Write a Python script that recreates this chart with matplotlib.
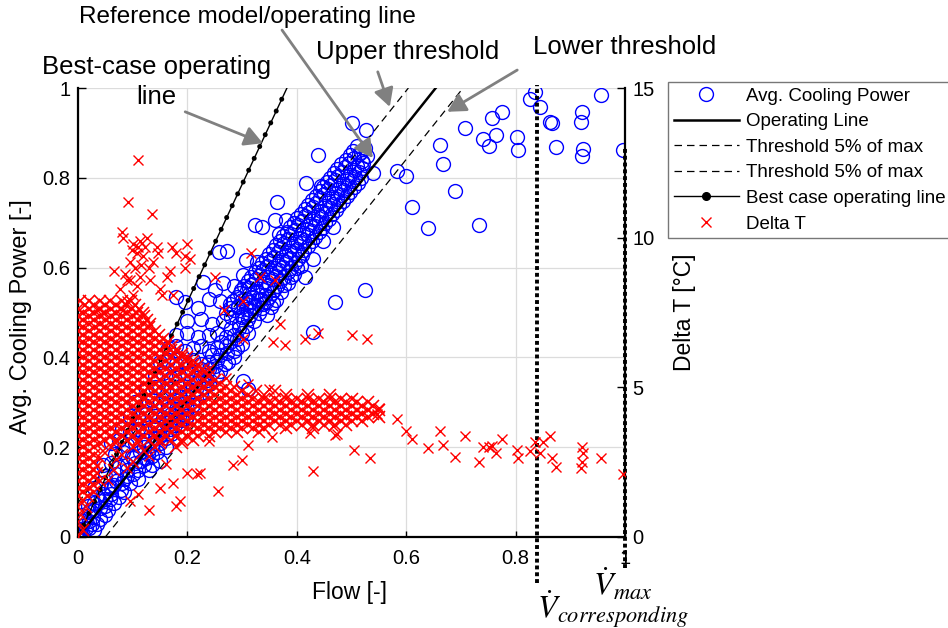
import matplotlib
matplotlib.use('Agg')
import matplotlib.pyplot as plt
from matplotlib.lines import Line2D
from matplotlib.ticker import FormatStrFormatter

plt.rcParams['font.family'] = ['Liberation Sans', 'DejaVu Sans']
plt.rcParams['mathtext.fontset'] = 'stix'

# ---- model lines (flow [-] vs avg. cooling power [-]) ----
op_flow = [0.0, 0.654]
op_power = [0.0, 1.0]
upper_flow = [0.0, 0.604]
upper_power = [0.0765, 1.0]
lower_flow = [0.05, 0.704]
lower_power = [0.0, 1.0]
best_flow = [0.0, 0.382]
best_power = [0.0, 1.0]

# dotted markers: V_corresponding and V_max
vline_flow = [0.84, 1.0]
vline_top = [1.007, 0.869]
vline_bottom = [-0.102, -0.069]

# ---- avg. cooling power points (flow, power) ----
blue_core = [
    (0.0, 0.0), (0.004, 0.01), (0.01, 0.005), (0.015, 0.02), (0.0, 0.015), (0.008, 0.025),
    (0.012, 0.04), (0.02, 0.035), (0.028, 0.045), (0.035, 0.03), (0.006, 0.05), (0.022, 0.06),
    (0.018, 0.07), (0.03, 0.075), (0.04, 0.065), (0.05, 0.07), (0.034, 0.09), (0.045, 0.095), (0.058, 0.085),
    (0.03, 0.11), (0.042, 0.12), (0.055, 0.11), (0.066, 0.115), (0.078, 0.105), (0.05, 0.135),
    (0.07, 0.14), (0.085, 0.13), (0.095, 0.12),
    (0.045, 0.16), (0.06, 0.165), (0.075, 0.155), (0.09, 0.16), (0.105, 0.165), (0.12, 0.16), (0.135, 0.16),
    (0.067, 0.185), (0.082, 0.19), (0.098, 0.18), (0.113, 0.19), (0.128, 0.185), (0.145, 0.19),
    (0.06, 0.21), (0.075, 0.215), (0.09, 0.205), (0.105, 0.21), (0.12, 0.215), (0.135, 0.205),
    (0.15, 0.21), (0.16, 0.2), (0.08, 0.24), (0.095, 0.235), (0.11, 0.24), (0.125, 0.235),
    (0.14, 0.245), (0.155, 0.235), (0.168, 0.24), (0.178, 0.25),
    (0.095, 0.27), (0.11, 0.265), (0.125, 0.275), (0.14, 0.27), (0.155, 0.265), (0.17, 0.275),
    (0.185, 0.27), (0.198, 0.265), (0.105, 0.3), (0.12, 0.295), (0.135, 0.305), (0.15, 0.3),
    (0.165, 0.295), (0.18, 0.305), (0.195, 0.3), (0.21, 0.295), (0.2, 0.285),
    (0.125, 0.33), (0.14, 0.335), (0.155, 0.325), (0.17, 0.33), (0.185, 0.335), (0.2, 0.325),
    (0.215, 0.33), (0.23, 0.335), (0.14, 0.36), (0.155, 0.365), (0.17, 0.355), (0.185, 0.36),
    (0.2, 0.365), (0.215, 0.355), (0.23, 0.36), (0.245, 0.365),
    (0.15, 0.39), (0.165, 0.395), (0.18, 0.385), (0.195, 0.39), (0.21, 0.395), (0.225, 0.385),
    (0.24, 0.39), (0.255, 0.395), (0.268, 0.385), (0.165, 0.42), (0.18, 0.425), (0.195, 0.415),
    (0.21, 0.42), (0.225, 0.425), (0.24, 0.415), (0.255, 0.42), (0.27, 0.425), (0.285, 0.415),
    (0.18, 0.45), (0.2, 0.455), (0.22, 0.445), (0.24, 0.45), (0.255, 0.455), (0.27, 0.445),
    (0.285, 0.45), (0.3, 0.455), (0.2, 0.48), (0.225, 0.485), (0.245, 0.475), (0.265, 0.48),
    (0.28, 0.49), (0.295, 0.475), (0.31, 0.485), (0.322, 0.48),
]
blue_core2 = [
    (0.02, 0.02), (0.03, 0.015), (0.025, 0.03), (0.04, 0.04), (0.05, 0.05), (0.055, 0.06),
    (0.065, 0.075), (0.06, 0.095), (0.075, 0.09), (0.085, 0.1), (0.08, 0.12), (0.09, 0.135),
    (0.1, 0.14), (0.11, 0.15), (0.1, 0.175), (0.115, 0.17), (0.125, 0.175), (0.12, 0.2),
    (0.13, 0.195), (0.14, 0.22), (0.15, 0.225), (0.145, 0.25), (0.16, 0.255), (0.17, 0.26),
    (0.165, 0.285), (0.18, 0.285), (0.19, 0.29), (0.185, 0.315), (0.2, 0.315), (0.21, 0.32),
    (0.205, 0.345), (0.22, 0.345), (0.235, 0.35), (0.225, 0.375), (0.24, 0.375), (0.25, 0.38),
    (0.245, 0.405), (0.26, 0.405), (0.272, 0.41), (0.262, 0.435), (0.278, 0.435), (0.29, 0.44),
    (0.28, 0.465), (0.295, 0.465), (0.308, 0.47), (0.3, 0.49), (0.315, 0.495),
    (0.01, 0.035), (0.02, 0.055), (0.03, 0.06), (0.04, 0.08), (0.05, 0.085), (0.06, 0.11),
    (0.07, 0.125), (0.09, 0.15), (0.11, 0.13), (0.13, 0.15), (0.135, 0.18), (0.15, 0.17),
    (0.16, 0.22), (0.17, 0.23), (0.185, 0.25), (0.19, 0.26), (0.2, 0.27), (0.215, 0.31),
    (0.225, 0.32), (0.24, 0.34), (0.255, 0.36), (0.26, 0.37), (0.275, 0.39), (0.285, 0.4),
    (0.29, 0.42), (0.3, 0.43), (0.31, 0.455),
]
blue_band = [
    (0.27, 0.5), (0.285, 0.505), (0.3, 0.495), (0.315, 0.505), (0.33, 0.5), (0.345, 0.495),
    (0.278, 0.52), (0.293, 0.515), (0.308, 0.52), (0.323, 0.515), (0.338, 0.52), (0.352, 0.512),
    (0.29, 0.535), (0.305, 0.53), (0.32, 0.535), (0.335, 0.53), (0.35, 0.535), (0.362, 0.528),
    (0.298, 0.55), (0.313, 0.555), (0.328, 0.548), (0.343, 0.555), (0.358, 0.55), (0.372, 0.546),
    (0.31, 0.57), (0.325, 0.575), (0.34, 0.568), (0.355, 0.575), (0.37, 0.57), (0.383, 0.566),
    (0.323, 0.59), (0.338, 0.595), (0.353, 0.588), (0.368, 0.594), (0.383, 0.59), (0.395, 0.586),
    (0.336, 0.61), (0.351, 0.614), (0.366, 0.607), (0.381, 0.613), (0.396, 0.61), (0.407, 0.604),
    (0.35, 0.63), (0.365, 0.634), (0.38, 0.627), (0.395, 0.633), (0.41, 0.628),
    (0.362, 0.65), (0.377, 0.655), (0.392, 0.648), (0.407, 0.654), (0.42, 0.648),
    (0.375, 0.67), (0.39, 0.674), (0.405, 0.667), (0.42, 0.673), (0.433, 0.668),
    (0.388, 0.69), (0.403, 0.694), (0.418, 0.687), (0.433, 0.693), (0.446, 0.688),
    (0.4, 0.71), (0.415, 0.715), (0.43, 0.708), (0.445, 0.713), (0.458, 0.708),
    (0.415, 0.73), (0.43, 0.734), (0.445, 0.727), (0.46, 0.733), (0.472, 0.728),
    (0.428, 0.75), (0.443, 0.755), (0.458, 0.748), (0.473, 0.753), (0.485, 0.748),
    (0.442, 0.77), (0.457, 0.774), (0.472, 0.767), (0.487, 0.773), (0.498, 0.768),
    (0.455, 0.79), (0.47, 0.794), (0.485, 0.787), (0.5, 0.793), (0.512, 0.788),
    (0.468, 0.81), (0.483, 0.814), (0.498, 0.807), (0.513, 0.812), (0.539, 0.81),
    (0.48, 0.83), (0.495, 0.834), (0.51, 0.827), (0.521, 0.832),
    (0.498, 0.85), (0.513, 0.852), (0.528, 0.848), (0.51, 0.87), (0.525, 0.866),
    (0.466, 0.69), (0.448, 0.66), (0.43, 0.62), (0.415, 0.58),
]
blue_band2 = [
    (0.277, 0.51), (0.292, 0.512), (0.307, 0.508), (0.322, 0.512), (0.337, 0.509),
    (0.284, 0.525), (0.299, 0.527), (0.314, 0.523), (0.329, 0.527), (0.344, 0.524), (0.357, 0.522),
    (0.297, 0.543), (0.312, 0.541), (0.327, 0.545), (0.342, 0.54), (0.355, 0.544),
    (0.304, 0.56), (0.319, 0.563), (0.334, 0.559), (0.349, 0.562), (0.364, 0.558), (0.377, 0.561),
    (0.317, 0.58), (0.332, 0.583), (0.347, 0.578), (0.362, 0.582), (0.377, 0.579), (0.389, 0.58),
    (0.33, 0.6), (0.345, 0.603), (0.36, 0.598), (0.375, 0.602), (0.39, 0.6), (0.4, 0.598),
    (0.343, 0.62), (0.358, 0.623), (0.373, 0.618), (0.388, 0.622), (0.402, 0.619),
    (0.356, 0.64), (0.371, 0.643), (0.386, 0.638), (0.401, 0.642), (0.414, 0.639),
    (0.369, 0.66), (0.384, 0.663), (0.399, 0.658), (0.414, 0.662), (0.427, 0.659),
    (0.382, 0.68), (0.397, 0.683), (0.412, 0.678), (0.427, 0.682), (0.44, 0.679),
    (0.395, 0.7), (0.41, 0.703), (0.425, 0.698), (0.44, 0.702), (0.452, 0.699),
    (0.408, 0.72), (0.423, 0.723), (0.438, 0.718), (0.453, 0.722), (0.465, 0.719),
    (0.421, 0.74), (0.436, 0.743), (0.451, 0.738), (0.466, 0.742), (0.478, 0.739),
    (0.435, 0.76), (0.45, 0.763), (0.465, 0.758), (0.48, 0.762), (0.492, 0.759),
    (0.448, 0.78), (0.463, 0.783), (0.478, 0.778), (0.493, 0.782), (0.505, 0.779),
    (0.461, 0.8), (0.476, 0.803), (0.491, 0.798), (0.506, 0.802), (0.518, 0.799),
    (0.474, 0.82), (0.489, 0.823), (0.504, 0.818), (0.519, 0.822),
    (0.49, 0.84), (0.505, 0.843), (0.52, 0.838), (0.503, 0.86), (0.518, 0.858),
]
blue_scatter = [
    (0.439, 0.85), (0.417, 0.789), (0.444, 0.781), (0.363, 0.746), (0.324, 0.694),
    (0.336, 0.691), (0.361, 0.707), (0.38, 0.705), (0.368, 0.674), (0.257, 0.635),
    (0.272, 0.637), (0.308, 0.616), (0.327, 0.612), (0.302, 0.583), (0.229, 0.568),
    (0.18, 0.534), (0.196, 0.523), (0.25, 0.55), (0.265, 0.565), (0.26, 0.525),
    (0.285, 0.56), (0.525, 0.551), (0.47, 0.523), (0.429, 0.456), (0.302, 0.348),
    (0.311, 0.33), (0.22, 0.51), (0.24, 0.53),
]
blue_outliers = [
    (0.5, 0.921), (0.527, 0.906), (0.708, 0.912), (0.756, 0.934), (0.776, 0.946),
    (0.741, 0.886), (0.765, 0.895), (0.752, 0.871), (0.803, 0.891), (0.805, 0.863),
    (0.661, 0.873), (0.668, 0.83), (0.836, 0.99), (0.826, 0.975), (0.845, 0.958),
    (0.863, 0.925), (0.866, 0.923), (0.921, 0.947), (0.919, 0.925), (0.956, 0.984),
    (0.873, 0.869), (0.924, 0.865), (0.921, 0.848), (0.997, 0.863), (0.584, 0.815),
    (0.6, 0.804), (0.69, 0.77), (0.611, 0.736), (0.64, 0.689), (0.733, 0.694),
]

# ---- delta T [degC]: dense cloud as rows (delta T, flows) ----
red_rows = [
    (7.875, [0.003, 0.021, 0.04, 0.058, 0.08, 0.097]),
    (7.75, [0.012, 0.03, 0.05, 0.07, 0.088, 0.105]),
    (7.625, [0.0, 0.02, 0.041, 0.06, 0.079, 0.098, 0.112]),
    (7.5, [0.01, 0.03, 0.05, 0.07, 0.09, 0.108, 0.118]),
    (7.375, [0.0, 0.02, 0.04, 0.061, 0.08, 0.1, 0.12]),
    (7.25, [0.01, 0.03, 0.052, 0.07, 0.09, 0.11, 0.126]),
    (7.125, [0.0, 0.02, 0.04, 0.06, 0.081, 0.1, 0.12, 0.132]),
    (7.0, [0.01, 0.031, 0.05, 0.07, 0.09, 0.11, 0.13]),
    (6.875, [0.0, 0.02, 0.04, 0.06, 0.08, 0.101, 0.12, 0.14]),
    (6.75, [0.01, 0.03, 0.05, 0.071, 0.09, 0.11, 0.13, 0.148]),
    (6.625, [0.0, 0.02, 0.04, 0.06, 0.08, 0.1, 0.121, 0.14, 0.156]),
    (6.5, [0.01, 0.03, 0.05, 0.07, 0.09, 0.11, 0.13, 0.15, 0.164]),
    (6.375, [0.0, 0.02, 0.041, 0.06, 0.08, 0.1, 0.12, 0.14, 0.16, 0.172]),
    (6.25, [0.01, 0.03, 0.05, 0.07, 0.091, 0.11, 0.13, 0.15, 0.17, 0.18]),
    (6.125, [0.0, 0.02, 0.04, 0.06, 0.08, 0.1, 0.12, 0.141, 0.16, 0.178, 0.19]),
    (6.0, [0.01, 0.03, 0.05, 0.07, 0.09, 0.11, 0.13, 0.15, 0.17, 0.19, 0.2]),
    (5.875, [0.0, 0.02, 0.04, 0.06, 0.08, 0.1, 0.12, 0.14, 0.16, 0.18, 0.2, 0.21]),
    (5.75, [0.01, 0.03, 0.05, 0.07, 0.09, 0.11, 0.13, 0.15, 0.17, 0.19, 0.21, 0.22]),
    (5.625, [0.0, 0.02, 0.04, 0.06, 0.08, 0.1, 0.12, 0.14, 0.16, 0.18, 0.2, 0.218, 0.228]),
    (5.5, [0.01, 0.03, 0.05, 0.07, 0.09, 0.11, 0.13, 0.15, 0.17, 0.19, 0.21, 0.23]),
    (5.375, [0.0, 0.02, 0.04, 0.06, 0.08, 0.1, 0.12, 0.14, 0.16, 0.18, 0.2, 0.22, 0.24]),
    (5.25, [0.01, 0.03, 0.05, 0.07, 0.09, 0.11, 0.13, 0.15, 0.17, 0.19, 0.21, 0.23, 0.25]),
    (5.125, [0.0, 0.02, 0.04, 0.06, 0.08, 0.1, 0.12, 0.14, 0.16, 0.18, 0.2, 0.22, 0.24,
             0.26]),
    (5.0, [0.01, 0.03, 0.05, 0.07, 0.09, 0.11, 0.13, 0.15, 0.17, 0.19, 0.21, 0.23, 0.25,
           0.27, 0.285]),
    (4.875, [0.0, 0.02, 0.04, 0.06, 0.08, 0.1, 0.12, 0.14, 0.16, 0.18, 0.2, 0.22, 0.24,
             0.26, 0.28, 0.3, 0.325, 0.36]),
    (4.75, [0.01, 0.03, 0.05, 0.07, 0.09, 0.11, 0.13, 0.15, 0.17, 0.19, 0.21, 0.23, 0.25,
            0.27, 0.29, 0.31, 0.34, 0.38, 0.42, 0.46]),
    (4.625, [0.0, 0.02, 0.04, 0.06, 0.08, 0.1, 0.12, 0.14, 0.16, 0.18, 0.2, 0.22, 0.24,
             0.26, 0.28, 0.3, 0.32, 0.34, 0.36, 0.38, 0.4, 0.42, 0.44, 0.46, 0.48, 0.5]),
    (4.5, [0.01, 0.03, 0.05, 0.07, 0.09, 0.11, 0.13, 0.15, 0.17, 0.19, 0.21, 0.23, 0.25,
           0.27, 0.29, 0.31, 0.33, 0.35, 0.37, 0.39, 0.41, 0.43, 0.45, 0.47, 0.49, 0.51, 0.53]),
    (4.375, [0.0, 0.02, 0.04, 0.06, 0.08, 0.1, 0.12, 0.14, 0.16, 0.18, 0.2, 0.22, 0.24,
             0.26, 0.28, 0.3, 0.32, 0.34, 0.36, 0.38, 0.4, 0.42, 0.44, 0.46, 0.48, 0.5,
             0.52, 0.54]),
    (4.25, [0.01, 0.03, 0.05, 0.07, 0.09, 0.11, 0.13, 0.15, 0.17, 0.19, 0.21, 0.23, 0.25,
            0.27, 0.29, 0.31, 0.33, 0.35, 0.37, 0.39, 0.41, 0.43, 0.45, 0.47, 0.49, 0.51,
            0.53, 0.55]),
    (4.125, [0.0, 0.02, 0.04, 0.06, 0.08, 0.1, 0.12, 0.14, 0.16, 0.18, 0.2, 0.22, 0.24,
             0.26, 0.28, 0.3, 0.32, 0.34, 0.36, 0.38, 0.4, 0.42, 0.44, 0.46, 0.48, 0.5,
             0.52, 0.54]),
    (4.0, [0.01, 0.03, 0.05, 0.07, 0.09, 0.11, 0.13, 0.15, 0.17, 0.19, 0.21, 0.23, 0.25,
           0.27, 0.29, 0.31, 0.33, 0.35, 0.37, 0.39, 0.41, 0.43, 0.45, 0.47, 0.49, 0.51,
           0.53, 0.55]),
    (3.875, [0.0, 0.02, 0.04, 0.06, 0.08, 0.1, 0.12, 0.14, 0.16, 0.18, 0.2, 0.22, 0.24,
             0.26, 0.28, 0.3, 0.32, 0.34, 0.36, 0.38, 0.4, 0.42, 0.44, 0.46, 0.48, 0.5, 0.52]),
    (3.75, [0.01, 0.03, 0.05, 0.07, 0.09, 0.11, 0.13, 0.15, 0.17, 0.19, 0.21, 0.23, 0.25,
            0.27, 0.29, 0.31, 0.33, 0.35, 0.37, 0.39, 0.41, 0.43, 0.45, 0.47, 0.49]),
    (3.625, [0.0, 0.02, 0.04, 0.06, 0.08, 0.1, 0.12, 0.14, 0.16, 0.18, 0.2, 0.22, 0.24,
             0.26, 0.28, 0.3, 0.32, 0.34, 0.38, 0.43]),
    (3.5, [0.01, 0.03, 0.05, 0.07, 0.09, 0.11, 0.13, 0.15, 0.17, 0.19, 0.21, 0.23, 0.25,
           0.27, 0.29, 0.33]),
    (3.375, [0.0, 0.02, 0.04, 0.06, 0.08, 0.1, 0.12, 0.14, 0.16, 0.18, 0.2, 0.22, 0.24]),
    (3.25, [0.01, 0.03, 0.05, 0.07, 0.09, 0.11, 0.13, 0.15, 0.17, 0.19, 0.21]),
    (3.125, [0.0, 0.02, 0.04, 0.07, 0.11, 0.15, 0.19]),
    (3.0, [0.01, 0.03, 0.06, 0.1, 0.14, 0.18]),
    (2.875, [0.0, 0.02, 0.045, 0.12]),
    (2.75, [0.01, 0.03, 0.08]),
    (2.625, [0.0, 0.02, 0.04]),
    (2.5, [0.01, 0.03, 0.1]),
    (2.375, [0.0, 0.02, 0.035]),
    (2.25, [0.01, 0.03, 0.065]),
    (2.125, [0.0, 0.02, 0.035]),
    (2.0, [0.01, 0.03]),
    (1.875, [0.0, 0.02, 0.04]),
    (1.75, [0.01, 0.03]),
    (1.625, [0.0, 0.02]),
    (1.5, [0.01, 0.03]),
    (1.375, [0.0, 0.018]),
    (1.25, [0.01]),
    (1.0, [0.0, 0.015]),
    (0.75, [0.005]),
    (0.5, [0.0]),
    (0.25, [0.01]),
    (0.0, [0.0]),
]
# scattered delta T points (flow, delta T)
red_upper = [
    (0.08, 10.2), (0.083, 10.0), (0.101, 9.8), (0.113, 9.9), (0.122, 9.7), (0.107, 9.5),
    (0.095, 9.2), (0.116, 9.1), (0.129, 9.0), (0.086, 8.8), (0.095, 8.6), (0.107, 8.4),
    (0.101, 8.1), (0.089, 7.9), (0.065, 8.9), (0.15, 8.3), (0.153, 8.1), (0.162, 8.7),
    (0.168, 8.9), (0.171, 9.7), (0.18, 9.5), (0.196, 9.4), (0.205, 9.3), (0.199, 9.8),
    (0.196, 9.0), (0.174, 8.1), (0.144, 9.7), (0.147, 9.5), (0.034, 7.6), (0.046, 7.5),
    (0.083, 7.6), (0.098, 9.6), (0.11, 9.7), (0.119, 9.4), (0.104, 9.0), (0.089, 8.6),
    (0.077, 8.3), (0.132, 8.6), (0.113, 8.7), (0.126, 10.0), (0.138, 9.2),
    (0.11, 12.6), (0.092, 11.2), (0.135, 10.8),
]
red_mid = [
    (0.317, 9.5), (0.36, 8.6), (0.333, 8.7), (0.25, 8.7), (0.302, 7.9), (0.266, 7.6),
    (0.302, 6.6), (0.357, 6.5), (0.378, 6.4), (0.415, 6.6), (0.439, 6.8), (0.5, 6.75),
    (0.528, 6.6), (0.369, 7.1), (0.24, 5.6), (0.27, 5.3), (0.31, 5.1), (0.35, 4.95),
]
red_low = [
    (0.15, 1.65), (0.186, 1.2), (0.256, 1.54), (0.283, 2.4), (0.299, 2.57), (0.429, 2.2),
    (0.311, 3.08), (0.217, 2.1), (0.223, 2.15), (0.199, 2.15), (0.174, 1.8), (0.11, 1.43),
    (0.095, 1.2), (0.473, 3.44), (0.424, 3.49), (0.354, 3.33), (0.18, 1.05), (0.13, 0.9),
    (0.07, 2.6), (0.09, 2.3), (0.13, 2.7), (0.16, 2.45), (0.055, 1.9), (0.24, 3.2),
]
red_tail = [
    (0.505, 2.9), (0.533, 2.65), (0.584, 3.94), (0.6, 3.55), (0.611, 3.29), (0.64, 2.96),
    (0.661, 3.55), (0.668, 3.07), (0.69, 2.66), (0.708, 3.38), (0.733, 2.51), (0.741, 3.02),
    (0.752, 3.02), (0.756, 3.05), (0.765, 2.82), (0.776, 3.29), (0.803, 2.9), (0.805, 2.65),
    (0.826, 2.86), (0.836, 3.16), (0.845, 2.79), (0.851, 3.18), (0.863, 3.38), (0.866, 2.64),
    (0.873, 2.35), (0.921, 2.99), (0.924, 2.82), (0.921, 2.49), (0.919, 2.3), (0.956, 2.64),
    (0.997, 2.12), (0.467, 3.7), (0.47, 3.4), (0.546, 4.1), (0.55, 4.3),
]

BLUE = '#0000ff'
RED = '#ff0000'
ARROW = '#808080'

fig = plt.figure(figsize=(9.48, 6.28), dpi=100)
ax = fig.add_axes([78 / 948, 91 / 628, 547 / 948, 449 / 628])

bf, bp = zip(*(blue_core + blue_core2 + blue_band + blue_band2 + blue_scatter + blue_outliers))
ax.plot(bf, bp, 'o', ms=10, mfc='none', mec=BLUE, mew=1.0, zorder=2)

ax.plot(op_flow, op_power, color='k', lw=1.8, zorder=3)
ax.plot(upper_flow, upper_power, color='k', lw=0.9, dashes=(6, 4), zorder=3)
ax.plot(lower_flow, lower_power, color='k', lw=0.9, dashes=(6, 4), zorder=3)
ax.plot(best_flow, best_power, color='k', lw=1.0, zorder=3)
# dots along the best case line
ax.plot(best_flow, best_power, color='k', lw=3.6, linestyle=(0, (0.01, 2.6)),
        dash_capstyle='round', zorder=3)

for f, b, t in zip(vline_flow, vline_bottom, vline_top):
    ax.plot([f, f], [b, t], color='k', lw=2.8, linestyle=(0, (1.0, 0.75)),
            clip_on=False, zorder=5)

ax.set_xlim(0, 1)
ax.set_ylim(0, 1)
ax.set_xticks([0, 0.2, 0.4, 0.6, 0.8, 1])
ax.set_yticks([0, 0.2, 0.4, 0.6, 0.8, 1])
ax.xaxis.set_major_formatter(FormatStrFormatter('%g'))
ax.yaxis.set_major_formatter(FormatStrFormatter('%g'))
ax.grid(True, color='#dcdcdc', lw=0.9)
ax.set_axisbelow(True)
ax.tick_params(axis='y', direction='in', length=6, width=1, labelsize=14.5, pad=5.5)
ax.tick_params(axis='x', direction='in', length=4, width=1, labelsize=14.5, pad=9)
for s in ['top', 'right']:
    ax.spines[s].set_visible(False)
for s in ['left', 'bottom']:
    ax.spines[s].set_linewidth(1.6)
ax.set_xlabel('Flow [-]', fontsize=16.5, va='top')
ax.xaxis.set_label_coords(0.497, -0.098)
ax.set_ylabel('Avg. Cooling Power [-]', fontsize=17)
ax.yaxis.set_label_coords(-0.084, 0.49)

# right axis: delta T
ax2 = ax.twinx()
rf, rt = [], []
for t, flows in red_rows:
    rf += flows
    rt += [t] * len(flows)
ax2.plot(rf, rt, 'x', color=RED, ms=8, mew=1.15, zorder=4)
sf, st = zip(*(red_upper + red_mid + red_low + red_tail))
ax2.plot(sf, st, 'x', color=RED, ms=7, mew=1.0, zorder=4)
ax2.set_ylim(0, 15)
ax2.set_yticks([0, 5, 10, 15])
ax2.tick_params(axis='y', direction='in', length=6, width=1, labelsize=14.5, pad=5.5)
for s in ['top', 'left', 'bottom']:
    ax2.spines[s].set_visible(False)
ax2.spines['right'].set_linewidth(1.6)
ax2.set_ylabel('Delta T [°C]', fontsize=16.5)
ax2.yaxis.set_label_coords(1.088, 0.5)

# annotations
arrow_kw = dict(arrowstyle='-|>,head_length=0.55,head_width=0.3', mutation_scale=20,
                color=ARROW, lw=2, shrinkA=0, shrinkB=0)
ax.annotate('', xy=(0.338, 0.877), xytext=(0.196, 0.947), arrowprops=arrow_kw,
            annotation_clip=False)
ax.annotate('', xy=(0.539, 0.844), xytext=(0.373, 1.129), arrowprops=arrow_kw,
            annotation_clip=False)
ax.annotate('', xy=(0.570, 0.958), xytext=(0.548, 1.036), arrowprops=arrow_kw,
            annotation_clip=False)
ax.annotate('', xy=(0.675, 0.947), xytext=(0.803, 1.040), arrowprops=arrow_kw,
            annotation_clip=False)
ax.text(0.309, 1.158, 'Reference model/operating line', fontsize=17.5,
        ha='center', va='center', clip_on=False)
ax.text(0.144, 1.047, 'Best-case operating', fontsize=18.5,
        ha='center', va='center', clip_on=False)
ax.text(0.144, 0.98, 'line', fontsize=18.5, ha='center', va='center', clip_on=False)
ax.text(0.603, 1.080, 'Upper threshold', fontsize=18.5, ha='center', va='center', clip_on=False)
ax.text(1.0, 1.091, 'Lower threshold', fontsize=18.5, ha='center', va='center', clip_on=False)

fig.text(623 / 948, 1 - 585 / 628, r'$\dot{V}_{max}$', fontsize=23, ha='center', va='center')
fig.text(613 / 948, 1 - 609 / 628, r'$\dot{V}_{corresponding}$', fontsize=23,
         ha='center', va='center')

handles = [
    Line2D([], [], ls='none', marker='o', ms=10, mfc='none', mec=BLUE, mew=1.0),
    Line2D([], [], color='k', lw=1.8),
    Line2D([], [], color='k', lw=0.9, dashes=(6, 4)),
    Line2D([], [], color='k', lw=0.9, dashes=(6, 4)),
    Line2D([], [], color='k', lw=1.0, marker='.', ms=11),
    Line2D([], [], ls='none', marker='x', ms=7, mew=1.0, color=RED),
]
labels = ['Avg. Cooling Power', 'Operating Line', 'Threshold 5% of max',
          'Threshold 5% of max', 'Best case operating line', 'Delta T']
leg = fig.legend(handles, labels, loc='upper left', bbox_to_anchor=(668 / 948, 1 - 82 / 628),
                 bbox_transform=fig.transFigure, fontsize=13.5, frameon=True, fancybox=False,
                 borderaxespad=0, borderpad=0.3, handlelength=3.5, handletextpad=0.35,
                 labelspacing=0.45, numpoints=1)
leg.get_frame().set_edgecolor('#555555')
leg.get_frame().set_linewidth(1.0)

fig.savefig('out.png', dpi=100)
